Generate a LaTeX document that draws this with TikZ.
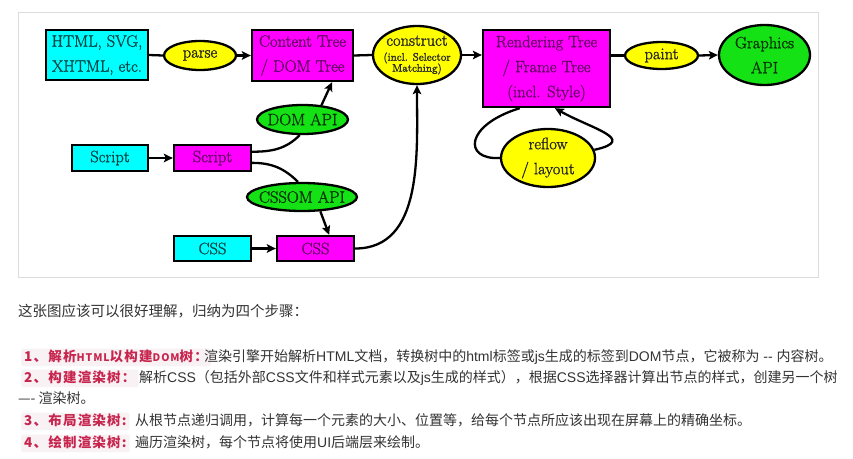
\documentclass[tikz,border=0pt]{standalone}
\usepackage{fontspec}
\usetikzlibrary{shapes.geometric,arrows.meta,calc}

\newfontfamily\diag[FakeBold=1.4]{Latin Modern Roman}
\newfontfamily\cjk{Noto Sans CJK SC}
\newfontfamily\lat{Liberation Sans}
\newfontfamily\cjklab[LetterSpace=9]{Noto Sans CJK SC}

\definecolor{gvcyan}{HTML}{00FFFF}
\definecolor{gvmag}{HTML}{FF00FF}
\definecolor{gvyel}{HTML}{FFFF00}
\definecolor{gvgreen}{HTML}{14E214}
\definecolor{codefg}{HTML}{C7254E}
\definecolor{codebg}{HTML}{F9F2F4}
\definecolor{bodytx}{HTML}{333333}
\definecolor{framegray}{HTML}{DCDCDC}

\newcommand{\la}[1]{{\lat #1}}

\tikzset{
  base/.style={draw=black, line width=2.3pt, align=center, inner sep=0pt,
    font=\fontsize{16.5}{25}\diag},
  cbox/.style={base, rectangle, fill=gvcyan, text=gvcyan!28!black},
  mbox/.style={base, rectangle, fill=gvmag, text=gvmag!40!black},
  yell/.style={base, ellipse, fill=gvyel, text=black!85, inner xsep=-22pt, inner ysep=-12pt},
  gell/.style={base, ellipse, fill=gvgreen, text=gvgreen!22!black, inner xsep=-22pt, inner ysep=-12pt},
  conn/.style={line width=2.3pt, draw=black},
  arr/.style={conn, -{Stealth[length=9pt,width=8.5pt,inset=2pt]}},
  lab/.style={anchor=base west, fill=codebg, text=codefg, rounded corners=2pt,
    inner xsep=3pt, inner ysep=1.5pt, text height=11pt, text depth=3.5pt,
    font={\fontsize{13.5}{16}\cjklab\bfseries}},
  body/.style={anchor=base west, text=bodytx, inner sep=0pt,
    font={\fontsize{14}{16}\cjk}},
}

\begin{document}
\begin{tikzpicture}[x=1pt,y=-1pt]
  % page and diagram frame
  \fill[white] (0,0) rectangle (853,458);
  \useasboundingbox (0,0) rectangle (853,458);
  \draw[framegray, line width=1pt] (18,12) rectangle (818,277);

  % top row
  \node[cbox, minimum width=102, minimum height=50] (html) at (97,55) {HTML, SVG,\\XHTML, etc.};
  \node[yell, minimum width=72, minimum height=29] (parse) at (200,55.5) {parse};
  \node[mbox, minimum width=101, minimum height=51] (ct) at (302.5,55.5) {Content Tree\\/ DOM Tree};
  \node[yell, minimum width=88, minimum height=58, font=\fontsize{16.5}{17}\diag] (con) at (417,55)
    {construct\\[-2pt]{\fontsize{11}{10}\diag (incl. Selector}\\[-6pt]{\fontsize{11}{10}\diag Matching)}};
  \node[mbox, minimum width=127, minimum height=77] (rt) at (546.5,68.5) {Rendering Tree\\/ Frame Tree\\(incl. Style)};
  \node[yell, minimum width=73, minimum height=27] (paint) at (661.5,55.5) {paint};
  \node[gell, minimum width=91, minimum height=60] (gapi) at (764.5,55) {Graphics\\API};
  \node[yell, minimum width=94, minimum height=58] (rf) at (548,158) {reflow\\/ layout};

  % script and style inputs
  \node[cbox, minimum width=76, minimum height=26] (sc) at (110,158) {Script};
  \node[mbox, minimum width=77, minimum height=26] (sm) at (212.5,158) {Script};
  \node[gell, minimum width=91, minimum height=29] (dom) at (302.5,119.5) {DOM API};
  \node[gell, minimum width=110, minimum height=28] (cssom) at (302,197) {CSSOM API};
  \node[cbox, minimum width=77, minimum height=25] (cssc) at (212.5,248.5) {CSS};
  \node[mbox, minimum width=77, minimum height=25] (cssm) at (315.5,248.5) {CSS};

  % main pipeline
  \draw[conn] (html.east) -- (parse.west);
  \draw[arr] (parse.east) -- (ct.west);
  \draw[conn] (ct.east) -- (con.west);
  \draw[arr] (con.east) -- (con.east -| rt.west);
  \draw[conn] (paint.west -| rt.east) -- (paint.west);
  \draw[arr] (paint.east) -- (gapi.west);

  % scripts and styles
  \draw[arr] (sc.east) -- (sm.west);
  \draw[arr] (cssc.east) -- (cssm.west);
  \draw[conn] (sm.9) to[out=0, in=225] (dom.-100);
  \draw[arr] (dom.37) -- (ct.-42);
  \draw[conn] (sm.-7) to[out=0, in=135] (cssom.105);
  \draw[arr] (cssom.-38) -- (cssm.45);
  \draw[arr] (cssm.east) to[out=0, in=-90] (con.south);

  % reflow loop
  \draw[conn] (rt.-124) .. controls +(-55,17) and +(-37,2) .. (rf.west);
  \draw[arr] (rf.10) .. controls +(45,-10) and +(35,20) .. (rt.-78);

  % explanatory text
  \node[body, font={\fontsize{14.5}{16}\cjk}] (t0) at (18,316.5) {这张图应该可以很好理解，归纳为四个步骤：};
  \node[lab] (l1) at (21,361) {1、解析{\fontsize{10.5}{12}\selectfont HTML}以构建{\fontsize{10.5}{12}\selectfont DOM}树：};
  \node[body] (t1) at (204,361) {渲染引擎开始解析\la{HTML}文档，转换树中的\la{html}标签或\la{js}生成的标签到\la{DOM}节点，它被称为\la{ -{}- }内容树。};
  \node[lab] (l2) at (21,382) {2、构建渲染树：};
  \node[body] (t2) at (139,382) {解析\la{CSS}（包括外部\la{CSS}文件和样式元素以及\la{js}生成的样式），根据\la{CSS}选择器计算出节点的样式，创建另一个树};
  \node[body] (t3) at (18,403) {—- 渲染树。};
  \node[lab] (l3) at (21,425) {3、布局渲染树:};
  \node[body] (t4) at (135,425) {从根节点递归调用，计算每一个元素的大小、位置等，给每个节点所应该出现在屏幕上的精确坐标。};
  \node[lab] (l4) at (21,447) {4、绘制渲染树:};
  \node[body] (t5) at (135,447) {遍历渲染树，每个节点将使用\la{UI}后端层来绘制。};
\end{tikzpicture}
\end{document}
